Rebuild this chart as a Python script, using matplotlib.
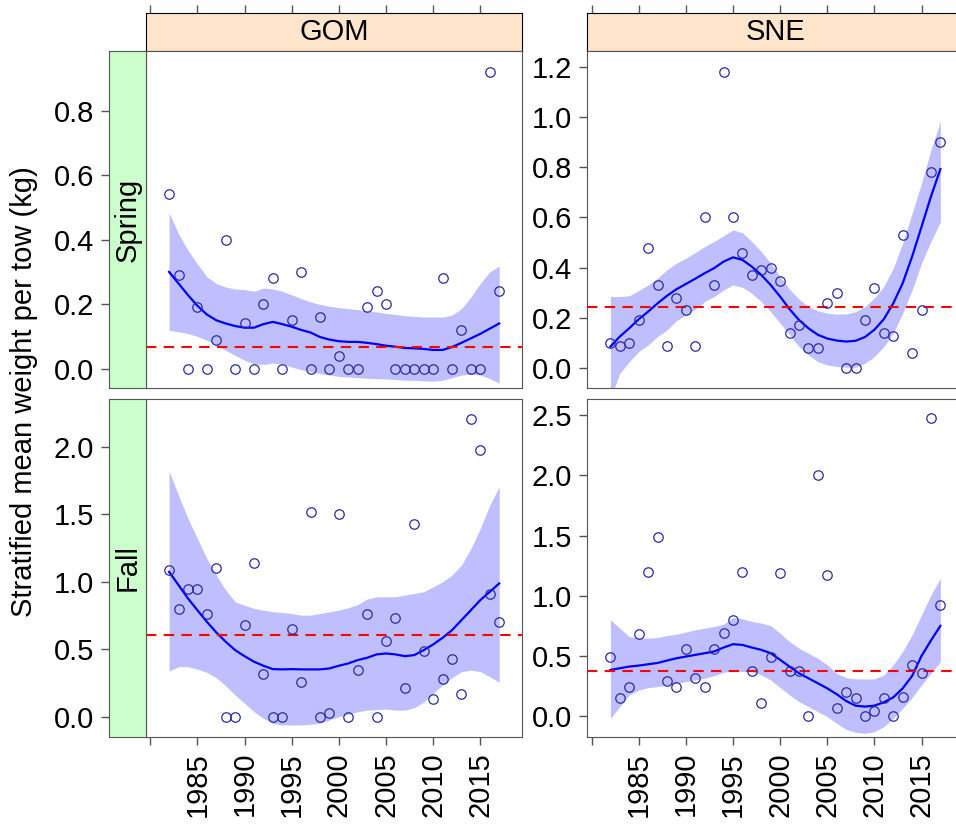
import matplotlib.pyplot as plt
import numpy as np

plt.rcParams['font.family'] = ['Liberation Sans', 'DejaVu Sans']
plt.rcParams['font.size'] = 21

years = np.arange(1982, 2018)

# observed stratified mean weight per tow
gom_spring = [0.54, 0.29, 0.0, 0.19, 0.0, 0.09, 0.40, 0.0, 0.14, 0.0, 0.20, 0.28,
              0.0, 0.15, 0.30, 0.0, 0.16, 0.0, 0.04, 0.0, 0.0, 0.19, 0.24, 0.20,
              0.0, 0.0, 0.0, 0.0, 0.0, 0.28, 0.0, 0.12, 0.0, 0.0, 0.92, 0.24]
sne_spring = [0.10, 0.09, 0.10, 0.19, 0.48, 0.33, 0.09, 0.28, 0.23, 0.09, 0.60, 0.33,
              1.18, 0.60, 0.46, 0.37, 0.39, 0.40, 0.345, 0.14, 0.17, 0.08, 0.08, 0.26,
              0.30, 0.0, 0.0, 0.19, 0.32, 0.14, 0.13, 0.53, 0.06, 0.23, 0.78, 0.90]
gom_fall = [1.09, 0.80, 0.95, 0.95, 0.76, 1.10, 0.0, 0.0, 0.68, 1.14, 0.32, 0.0,
            0.0, 0.65, 0.26, 1.52, 0.0, 0.03, 1.50, 0.0, 0.35, 0.76, 0.0, 0.56,
            0.73, 0.21, 1.43, 0.49, 0.13, 0.28, 0.43, 0.17, 2.21, 1.98, 0.91, 0.70]
sne_fall = [0.49, 0.15, 0.24, 0.68, 1.20, 1.49, 0.29, 0.24, 0.56, 0.32, 0.24, 0.56,
            0.69, 0.80, 1.20, 0.375, 0.11, 0.49, 1.19, 0.375, 0.375, 0.0, 2.0, 1.17,
            0.07, 0.20, 0.15, 0.0, 0.04, 0.15, 0.0, 0.16, 0.42, 0.36, 2.48, 0.92]

# smoothed trend and its confidence band
gom_spring_fit = [0.30, 0.264, 0.228, 0.195, 0.168, 0.15, 0.14, 0.132, 0.127, 0.127,
                  0.138, 0.145, 0.138, 0.13, 0.12, 0.112, 0.098, 0.09, 0.085, 0.083,
                  0.083, 0.08, 0.076, 0.071, 0.068, 0.064, 0.063, 0.061, 0.058, 0.058,
                  0.067, 0.08, 0.094, 0.108, 0.124, 0.14]
gom_spring_hi = [0.483, 0.418, 0.367, 0.325, 0.285, 0.264, 0.253, 0.247, 0.245, 0.24,
                 0.25, 0.247, 0.24, 0.229, 0.217, 0.207, 0.199, 0.193, 0.189, 0.186,
                 0.183, 0.179, 0.176, 0.171, 0.168, 0.164, 0.162, 0.16, 0.16, 0.16,
                 0.166, 0.186, 0.222, 0.264, 0.30, 0.318]
gom_spring_lo = [0.119, 0.114, 0.109, 0.10, 0.088, 0.073, 0.057, 0.041, 0.026, 0.015,
                 0.013, 0.017, 0.015, 0.005, -0.003, -0.01, -0.015, -0.02, -0.024, -0.026,
                 -0.028, -0.03, -0.031, -0.032, -0.034, -0.036, -0.036, -0.038, -0.039, -0.036,
                 -0.028, -0.02, -0.017, -0.02, -0.031, -0.045]

sne_spring_fit = [0.086, 0.126, 0.159, 0.195, 0.225, 0.258, 0.288, 0.314, 0.335, 0.356,
                  0.378, 0.398, 0.424, 0.441, 0.431, 0.404, 0.371, 0.331, 0.285, 0.235,
                  0.192, 0.159, 0.133, 0.118, 0.11, 0.106, 0.109, 0.124, 0.153, 0.195,
                  0.258, 0.338, 0.444, 0.563, 0.683, 0.792]
sne_spring_hi = [0.285, 0.285, 0.288, 0.309, 0.331, 0.358, 0.391, 0.418, 0.437, 0.46,
                 0.484, 0.504, 0.527, 0.55, 0.539, 0.504, 0.464, 0.418, 0.365, 0.314,
                 0.275, 0.245, 0.228, 0.219, 0.215, 0.216, 0.225, 0.245, 0.279, 0.325,
                 0.398, 0.497, 0.617, 0.736, 0.869, 0.981]
sne_spring_lo = [-0.12, -0.02, 0.026, 0.066, 0.092, 0.126, 0.152, 0.189, 0.212, 0.235,
                 0.265, 0.285, 0.311, 0.331, 0.322, 0.298, 0.265, 0.225, 0.179, 0.133,
                 0.086, 0.053, 0.026, 0.013, 0.007, 0.004, 0.004, 0.02, 0.046, 0.086,
                 0.139, 0.219, 0.311, 0.418, 0.504, 0.583]

gom_fall_fit = [1.074, 0.976, 0.877, 0.79, 0.704, 0.625, 0.556, 0.494, 0.449, 0.408,
                0.378, 0.353, 0.351, 0.353, 0.351, 0.351, 0.351, 0.358, 0.378, 0.395,
                0.42, 0.437, 0.462, 0.469, 0.462, 0.449, 0.457, 0.494, 0.536, 0.585,
                0.642, 0.716, 0.79, 0.865, 0.926, 0.988]
gom_fall_hi = [1.82, 1.642, 1.469, 1.321, 1.173, 1.05, 0.939, 0.852, 0.827, 0.803,
               0.79, 0.778, 0.773, 0.765, 0.753, 0.753, 0.765, 0.778, 0.79, 0.808,
               0.832, 0.872, 0.889, 0.889, 0.889, 0.902, 0.914, 0.926, 0.963, 1.0,
               1.05, 1.124, 1.247, 1.395, 1.568, 1.704]
gom_fall_lo = [0.339, 0.371, 0.371, 0.353, 0.329, 0.289, 0.23, 0.161, 0.10, 0.037,
               -0.012, -0.049, -0.061, -0.061, -0.061, -0.056, -0.049, -0.024, 0.0, 0.018,
               0.037, 0.049, 0.054, 0.057, 0.049, 0.049, 0.066, 0.11, 0.173, 0.235,
               0.289, 0.334, 0.346, 0.334, 0.297, 0.255]

sne_fall_fit = [0.383, 0.397, 0.411, 0.419, 0.43, 0.441, 0.461, 0.48, 0.494, 0.508,
                0.522, 0.536, 0.569, 0.597, 0.591, 0.569, 0.55, 0.522, 0.467, 0.411,
                0.355, 0.314, 0.272, 0.23, 0.181, 0.125, 0.086, 0.078, 0.086, 0.114,
                0.155, 0.23, 0.333, 0.50, 0.628, 0.749]
sne_fall_hi = [0.80, 0.73, 0.661, 0.647, 0.647, 0.652, 0.669, 0.68, 0.697, 0.716,
               0.73, 0.744, 0.763, 0.819, 0.808, 0.786, 0.772, 0.752, 0.688, 0.619,
               0.563, 0.522, 0.48, 0.425, 0.355, 0.319, 0.308, 0.308, 0.308, 0.341,
               0.425, 0.536, 0.675, 0.841, 1.007, 1.146]
sne_fall_lo = [-0.019, 0.078, 0.175, 0.216, 0.236, 0.244, 0.258, 0.272, 0.286, 0.30,
               0.314, 0.336, 0.363, 0.375, 0.369, 0.369, 0.341, 0.30, 0.236, 0.175,
               0.12, 0.078, 0.036, -0.006, -0.061, -0.111, -0.136, -0.144, -0.13, -0.089,
               -0.019, 0.064, 0.153, 0.258, 0.355, 0.452]

# reference levels (dashed red)
ref_levels = {'GOM Spring': 0.067, 'SNE Spring': 0.245,
              'GOM Fall': 0.605, 'SNE Fall': 0.375}

regions = ['GOM', 'SNE']
seasons = ['Spring', 'Fall']
year_ticks = [1980, 1985, 1990, 1995, 2000, 2005, 2010, 2015]

panels = {
    ('GOM', 'Spring'): (gom_spring, gom_spring_fit, gom_spring_lo, gom_spring_hi),
    ('SNE', 'Spring'): (sne_spring, sne_spring_fit, sne_spring_lo, sne_spring_hi),
    ('GOM', 'Fall'): (gom_fall, gom_fall_fit, gom_fall_lo, gom_fall_hi),
    ('SNE', 'Fall'): (sne_fall, sne_fall_fit, sne_fall_lo, sne_fall_hi),
}
ylims = {
    ('GOM', 'Spring'): (-0.061, 0.985, np.arange(0, 0.81, 0.2)),
    ('SNE', 'Spring'): (-0.080, 1.262, np.arange(0, 1.21, 0.2)),
    ('GOM', 'Fall'): (-0.148, 2.359, np.arange(0, 2.01, 0.5)),
    ('SNE', 'Fall'): (-0.172, 2.639, np.arange(0, 2.51, 0.5)),
}

W, H = 956, 824
fig = plt.figure(figsize=(W / 100, H / 100), dpi=100)


def box(x0, y0, x1, y1):
    return [x0 / W, 1 - y1 / H, (x1 - x0) / W, (y1 - y0) / H]


cols = [(146, 522.3), (587.3, 963.5)]
rows = [(51, 388.3), (398.5, 736.7)]
xlim = (1979.55, 2019.45)
frame = '#555555'
tick_kw = dict(direction='out', length=6, width=1, color=frame, pad=5)

for ci, region in enumerate(regions):
    x0, x1 = cols[ci]
    # strip with region name on top
    st = fig.add_axes(box(x0, 13.3, x1, rows[0][0]))
    st.set_facecolor('#FFE5CC')
    st.set_xlim(xlim)
    st.set_yticks([])
    st.set_xticks(year_ticks)
    st.xaxis.tick_top()
    st.tick_params(axis='x', labeltop=False, **tick_kw)
    for s in st.spines.values():
        s.set_color('black')
    st.text(0.5, 0.5, region, transform=st.transAxes, ha='center', va='center')

    for ri, season in enumerate(seasons):
        y0, y1 = rows[ri]
        obs, fit, lo, hi = panels[(region, season)]
        ymin, ymax, yt = ylims[(region, season)]
        ax = fig.add_axes(box(x0, y0, x1, y1))
        ax.fill_between(years, lo, hi, color='#BFBFFF', lw=0, zorder=1)
        ax.plot(years, fit, color='#0000FF', lw=1.6, zorder=2)
        ax.axhline(ref_levels[region + ' ' + season], color='#FF0000', lw=1.5,
                   dashes=(5, 3.5), zorder=3)
        ax.plot(years, obs, 'o', mfc='none', mec='#2B2BA8', ms=6.8, mew=0.9, zorder=4)
        ax.set_xlim(xlim)
        ax.set_ylim(ymin, ymax)
        for s in ax.spines.values():
            s.set_color(frame)
        ax.set_xticks(year_ticks)
        if ri == 1:
            ax.tick_params(axis='x', **tick_kw)
            ax.set_xticklabels([''] + [str(y) for y in year_ticks[1:]], rotation=90)
        else:
            ax.tick_params(axis='x', length=0, labelbottom=False)

        if ci == 0:
            # season strip on the left, carrying the y axis
            ss = fig.add_axes(box(109.3, y0, x0, y1))
            ss.set_facecolor('#CCFFCC')
            ss.set_xticks([])
            ss.set_ylim(ymin, ymax)
            ss.set_yticks(yt)
            ss.set_yticklabels(['%.1f' % v for v in yt])
            ss.tick_params(axis='y', **tick_kw)
            for s in ss.spines.values():
                s.set_color(frame)
            ss.text(0.5, 0.5, season, transform=ss.transAxes, rotation=90,
                    ha='center', va='center')
            ax.set_yticks([])
        else:
            ax.set_yticks(yt)
            ax.set_yticklabels(['%.1f' % v for v in yt])
            ax.tick_params(axis='y', **tick_kw)

fig.text(24 / W, 1 - 392 / H, 'Stratified mean weight per tow (kg)',
         rotation=90, ha='center', va='center')

fig.savefig('out.png', dpi=100)
